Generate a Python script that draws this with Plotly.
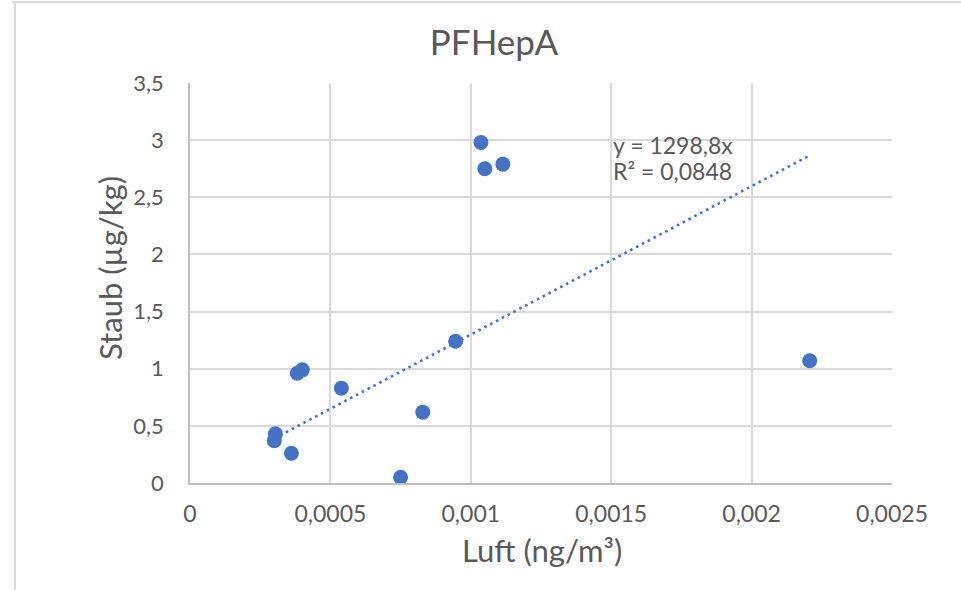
import plotly.graph_objects as go

# Data
luft = [0.001036, 0.00105, 0.001114, 0.000946, 0.002207, 0.0004, 0.000382,
        0.000539, 0.000829, 0.000304, 0.0003, 0.000361, 0.00075]
staub = [2.98, 2.75, 2.79, 1.24, 1.07, 0.99, 0.96,
         0.83, 0.62, 0.43, 0.37, 0.26, 0.05]

trend_slope = 1298.8
trend_r2 = 0.0848

x_ticks = [0, 0.0005, 0.001, 0.0015, 0.002, 0.0025]
x_ticktext = ["0", "0,0005", "0,001", "0,0015", "0,002", "0,0025"]
y_ticks = [0, 0.5, 1, 1.5, 2, 2.5, 3, 3.5]
y_ticktext = ["0", "0,5", "1", "1,5", "2", "2,5", "3", "3,5"]

title_text = "PFHepA"
x_title = "Luft (ng/m³)"
y_title = "Staub (µg/kg)"

blue = "#4472C4"
gray_text = "#595959"
grid = "#d9d9d9"
font_family = "Lato, Carlito, Calibri, sans-serif"

W, H = 961, 590
ml, mr, mt, mb = 190, 69, 83, 107
pw = W - ml - mr
ph = H - mt - mb

fig = go.Figure()

tx = [min(luft), max(luft)]
ty = [trend_slope * v for v in tx]
fig.add_trace(go.Scatter(x=tx, y=ty, mode="lines",
                         line=dict(color=blue, width=2.6, dash="2.6px,4px"),
                         hoverinfo="skip", showlegend=False))
fig.add_trace(go.Scatter(x=luft, y=staub, mode="markers",
                         marker=dict(color=blue, size=15, line=dict(width=0)),
                         showlegend=False))

eq_lines = [f"y = {str(trend_slope).replace('.', ',')}x",
            f"R² = {str(trend_r2).replace('.', ',')}"]
for txt, yy in zip(eq_lines, [2.955, 2.73]):
    fig.add_annotation(x=0.0015, y=yy, xref="x", yref="y",
                       xanchor="left", yanchor="middle", align="left",
                       text=txt, showarrow=False,
                       font=dict(family=font_family, size=23, color=gray_text))

# axis titles (placed as in the reference)
fig.add_annotation(x=(542 - ml) / pw, y=(H - mb - 550) / ph, xref="paper", yref="paper",
                   xanchor="center", yanchor="middle", text=x_title, showarrow=False,
                   font=dict(family=font_family, size=31, color=gray_text))
fig.add_annotation(x=(110 - ml) / pw, y=(H - mb - 268) / ph, xref="paper", yref="paper",
                   xanchor="center", yanchor="middle", text=y_title, showarrow=False,
                   textangle=-90,
                   font=dict(family=font_family, size=31, color=gray_text))

# chart outer border (top and left only, as in the reference)
fig.add_shape(type="line", xref="paper", yref="paper",
              x0=(12 - ml) / pw, x1=(W + 5 - ml) / pw,
              y0=(H - mb - 2) / ph, y1=(H - mb - 2) / ph,
              line=dict(color=grid, width=2))
fig.add_shape(type="line", xref="paper", yref="paper",
              x0=(15 - ml) / pw, x1=(15 - ml) / pw,
              y0=(H - mb - 2) / ph, y1=(H - mb - H - 5) / ph,
              line=dict(color=grid, width=2))

fig.update_layout(
    width=W, height=H,
    margin=dict(l=ml, r=mr, t=mt, b=mb),
    paper_bgcolor="white", plot_bgcolor="white",
    font=dict(family=font_family, color=gray_text),
    title=dict(text=title_text, x=494 / W, xref="container", xanchor="center",
               y=1 - 43 / H, yref="container", yanchor="middle",
               font=dict(family=font_family, size=35, color=gray_text)),
    xaxis=dict(range=[0, 0.0025], tickvals=x_ticks, ticktext=x_ticktext,
               showgrid=True, gridcolor=grid, gridwidth=1.5,
               zeroline=False, showline=True, linecolor="#bfbfbf", linewidth=1.5,
               ticks="", ticklabelstandoff=10,
               tickfont=dict(size=23, color=gray_text)),
    yaxis=dict(range=[0, 3.5], tickvals=y_ticks, ticktext=y_ticktext,
               showgrid=True, gridcolor=grid, gridwidth=1.5,
               zeroline=False, showline=True, linecolor="#bfbfbf", linewidth=1.5,
               ticks="", ticklabelstandoff=20,
               tickfont=dict(size=22, color=gray_text)),
)

fig.write_html("out.html")
